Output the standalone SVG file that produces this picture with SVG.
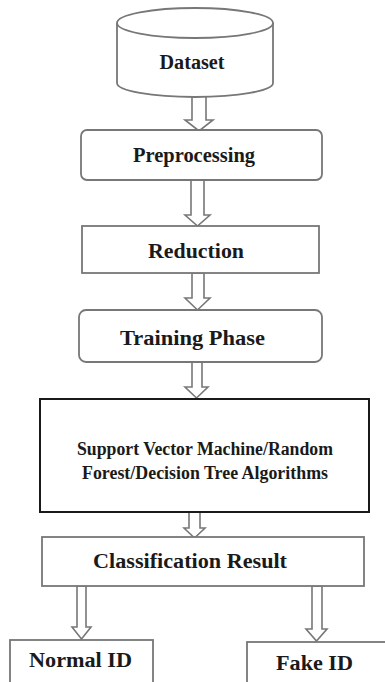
<svg xmlns="http://www.w3.org/2000/svg" width="385" height="682" viewBox="0 0 385 682">
<style>
.box{fill:#fff;stroke:#777;stroke-width:1.8}
.dark{fill:#fff;stroke:#1a1a1a;stroke-width:2}
.arr{fill:#fff;stroke:#777;stroke-width:1.6;stroke-linejoin:miter}
text{font-family:"Liberation Serif","Times New Roman",serif;font-weight:bold;fill:#1a1a1a;text-anchor:middle}
.t19{font-size:20px}
.t17{font-size:18px}
</style>
<rect width="385" height="682" fill="#fff"/>
<g id="connectors">
<polygon class="arr" points="192,96 192,120 185,120 199,131 213,120 206,120 206,96"/>
<polygon class="arr" points="191,180 191,215 185,215 197.5,226 210,215 204,215 204,180"/>
<polygon class="arr" points="192,273 192,298 185,298 197.5,310 210,298 204,298 204,273"/>
<polygon class="arr" points="192,362 192,387 185,387 196.5,398 208,387 202,387 202,362"/>
<polygon class="arr" points="189,512 189,528 184,528 194.5,538 205,528 200,528 200,512"/>
<polygon class="arr" points="77,586 77,627 72,627 81.5,639 91,627 86,627 86,586"/>
<polygon class="arr" points="312,586 312,629 306,629 316.5,641 327,629 322,629 322,586"/>
</g>
<g id="dataset">
<path class="box" d="M117,23 L117,83 A78,14 0 0 0 273,83 L273,23"/>
<ellipse class="box" cx="195" cy="23" rx="78" ry="15"/>
<text class="t19" x="192" y="69" textLength="65" lengthAdjust="spacingAndGlyphs">Dataset</text>
</g>
<g id="preprocessing">
<rect class="box" x="81" y="130" width="241" height="50" rx="6"/>
<text class="t19" x="194" y="162" textLength="122" lengthAdjust="spacingAndGlyphs">Preprocessing</text>
</g>
<g id="reduction">
<rect class="box" x="82" y="226" width="237" height="47"/>
<text class="t19" x="196" y="258" textLength="96" lengthAdjust="spacingAndGlyphs">Reduction</text>
</g>
<g id="training">
<rect class="box" x="79" y="310" width="243" height="52" rx="7"/>
<text class="t19" x="192.5" y="345" textLength="145" lengthAdjust="spacingAndGlyphs">Training Phase</text>
</g>
<g id="algorithms">
<rect class="dark" x="40" y="399" width="329" height="113"/>
<text class="t17" x="205" y="455" textLength="256" lengthAdjust="spacingAndGlyphs">Support Vector Machine/Random</text>
<text class="t17" x="205" y="479" textLength="246" lengthAdjust="spacingAndGlyphs">Forest/Decision Tree Algorithms</text>
</g>
<g id="classification">
<rect class="box" x="42" y="537" width="322" height="49"/>
<text class="t19" x="190" y="568" textLength="194" lengthAdjust="spacingAndGlyphs">Classification Result</text>
</g>
<g id="normal">
<rect class="box" x="10" y="640" width="143" height="60"/>
<text class="t19" x="80.5" y="667" textLength="103" lengthAdjust="spacingAndGlyphs">Normal ID</text>
</g>
<g id="fake">
<rect class="box" x="247" y="642" width="160" height="60"/>
<text class="t19" x="314.5" y="670" textLength="77" lengthAdjust="spacingAndGlyphs">Fake ID</text>
</g>
</svg>
